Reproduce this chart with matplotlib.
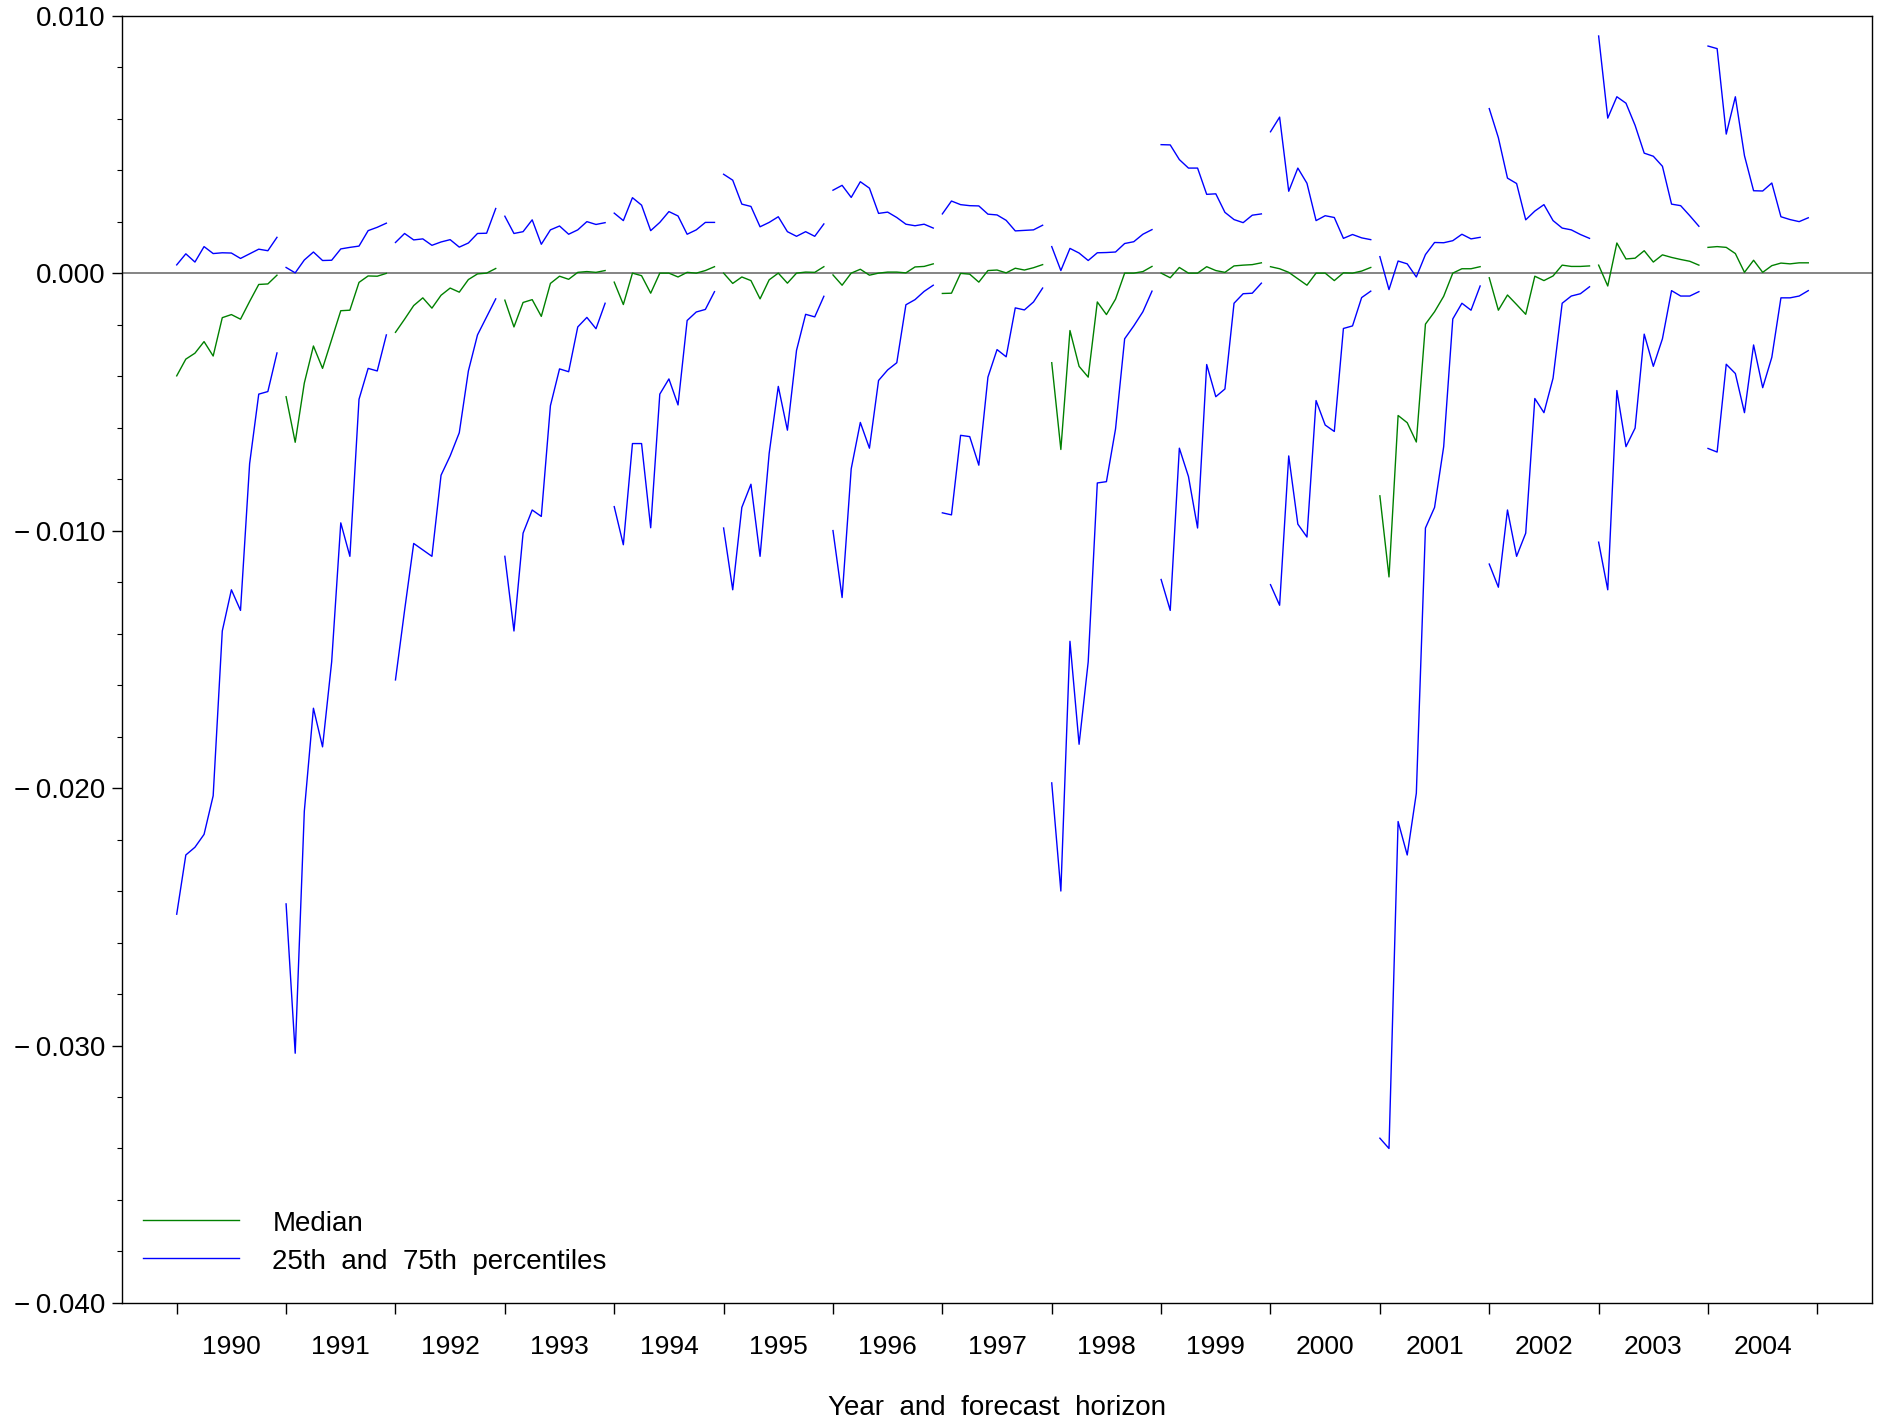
import matplotlib
matplotlib.use("Agg")
import matplotlib.pyplot as plt
from matplotlib.ticker import FixedLocator, FuncFormatter, MultipleLocator
from matplotlib.lines import Line2D

plt.rcParams['font.family'] = ['Liberation Sans', 'DejaVu Sans']

# values in thousandths (x 0.001); 12 forecast horizons per year
years = list(range(1990, 2005))
n_h = 12

median = [
    [-3.99, -3.34, -3.11, -2.66, -3.22, -1.73, -1.61, -1.79, -1.10, -0.44, -0.42, -0.08],
    [-4.80, -6.57, -4.27, -2.83, -3.70, -2.58, -1.46, -1.44, -0.36, -0.11, -0.12, -0.01],
    [-2.30, -1.79, -1.26, -0.96, -1.36, -0.86, -0.58, -0.74, -0.25, -0.03, 0.00, 0.18],
    [-1.05, -2.09, -1.14, -1.03, -1.68, -0.40, -0.12, -0.24, 0.03, 0.06, 0.03, 0.10],
    [-0.35, -1.22, 0.00, -0.10, -0.78, 0.00, 0.00, -0.15, 0.03, 0.00, 0.10, 0.25],
    [0.00, -0.40, -0.15, -0.29, -1.00, -0.26, 0.00, -0.39, 0.00, 0.04, 0.03, 0.25],
    [-0.07, -0.47, 0.00, 0.15, -0.08, 0.00, 0.04, 0.04, 0.01, 0.24, 0.26, 0.36],
    [-0.79, -0.78, -0.01, -0.04, -0.35, 0.10, 0.12, 0.01, 0.19, 0.12, 0.21, 0.33],
    [-3.48, -6.85, -2.23, -3.62, -4.04, -1.12, -1.61, -1.01, 0.00, 0.00, 0.06, 0.26],
    [0.00, -0.18, 0.22, 0.00, 0.00, 0.25, 0.10, 0.03, 0.28, 0.31, 0.33, 0.40],
    [0.25, 0.17, 0.03, -0.22, -0.47, 0.00, 0.00, -0.29, 0.01, 0.00, 0.08, 0.22],
    [-8.65, -11.8, -5.53, -5.81, -6.56, -1.98, -1.50, -0.90, 0.00, 0.17, 0.17, 0.25],
    [-0.18, -1.44, -0.85, -1.22, -1.60, -0.12, -0.29, -0.11, 0.31, 0.26, 0.26, 0.28],
    [0.31, -0.50, 1.17, 0.55, 0.58, 0.87, 0.43, 0.71, 0.61, 0.53, 0.46, 0.31],
    [1.00, 1.03, 1.00, 0.76, 0.03, 0.50, 0.03, 0.29, 0.39, 0.36, 0.40, 0.40],
]

pct75 = [
    [0.32, 0.75, 0.43, 1.03, 0.76, 0.79, 0.78, 0.57, 0.75, 0.93, 0.87, 1.39],
    [0.22, 0.01, 0.51, 0.82, 0.49, 0.50, 0.94, 1.00, 1.05, 1.65, 1.78, 1.94],
    [1.19, 1.54, 1.29, 1.33, 1.08, 1.21, 1.30, 1.01, 1.17, 1.54, 1.55, 2.51],
    [2.21, 1.54, 1.61, 2.07, 1.12, 1.68, 1.83, 1.51, 1.68, 2.00, 1.89, 1.96],
    [2.33, 2.04, 2.93, 2.64, 1.65, 1.97, 2.39, 2.22, 1.51, 1.68, 1.97, 1.97],
    [3.84, 3.61, 2.68, 2.59, 1.80, 1.97, 2.19, 1.61, 1.43, 1.61, 1.43, 1.91],
    [3.22, 3.41, 2.94, 3.55, 3.30, 2.32, 2.37, 2.16, 1.90, 1.84, 1.90, 1.75],
    [2.30, 2.80, 2.66, 2.62, 2.61, 2.29, 2.26, 2.05, 1.64, 1.66, 1.68, 1.86],
    [1.03, 0.10, 0.96, 0.78, 0.49, 0.79, 0.80, 0.82, 1.15, 1.22, 1.51, 1.69],
    [4.99, 4.98, 4.41, 4.08, 4.08, 3.06, 3.08, 2.36, 2.08, 1.96, 2.25, 2.30],
    [5.49, 6.06, 3.18, 4.08, 3.49, 2.04, 2.23, 2.16, 1.35, 1.50, 1.37, 1.30],
    [0.64, -0.64, 0.47, 0.36, -0.15, 0.72, 1.19, 1.18, 1.26, 1.51, 1.33, 1.39],
    [6.39, 5.26, 3.69, 3.48, 2.07, 2.41, 2.66, 2.04, 1.75, 1.68, 1.50, 1.35],
    [9.21, 6.02, 6.85, 6.60, 5.74, 4.66, 4.54, 4.15, 2.68, 2.62, 2.23, 1.82],
    [8.82, 8.72, 5.40, 6.85, 4.56, 3.20, 3.19, 3.50, 2.19, 2.08, 2.00, 2.15],
]

pct25 = [
    [-24.9, -22.6, -22.3, -21.8, -20.3, -13.9, -12.3, -13.1, -7.4, -4.7, -4.6, -3.1],
    [-24.5, -30.3, -20.9, -16.9, -18.4, -15.1, -9.7, -11.0, -4.9, -3.7, -3.8, -2.4],
    [-15.8, -13.1, -10.5, -10.75, -11.0, -7.85, -7.1, -6.2, -3.8, -2.4, -1.7, -1.0],
    [-11.0, -13.9, -10.1, -9.2, -9.45, -5.15, -3.72, -3.83, -2.09, -1.72, -2.16, -1.17],
    [-9.07, -10.55, -6.62, -6.62, -9.89, -4.70, -4.11, -5.12, -1.84, -1.51, -1.41, -0.72],
    [-9.9, -12.3, -9.1, -8.2, -11.0, -7.0, -4.4, -6.1, -3.0, -1.6, -1.7, -0.9],
    [-10.0, -12.6, -7.6, -5.8, -6.8, -4.17, -3.76, -3.48, -1.23, -1.03, -0.71, -0.47],
    [-9.31, -9.39, -6.30, -6.35, -7.46, -4.04, -2.97, -3.25, -1.35, -1.43, -1.12, -0.58],
    [-19.8, -24.0, -14.3, -18.3, -15.1, -8.15, -8.1, -6.05, -2.55, -2.05, -1.5, -0.7],
    [-11.9, -13.1, -6.8, -7.9, -9.9, -3.55, -4.8, -4.5, -1.17, -0.8, -0.78, -0.39],
    [-12.1, -12.9, -7.1, -9.75, -10.25, -4.95, -5.9, -6.15, -2.15, -2.05, -0.95, -0.7],
    [-33.6, -34.0, -21.3, -22.6, -20.2, -9.9, -9.1, -6.74, -1.78, -1.17, -1.44, -0.5],
    [-11.3, -12.2, -9.2, -11.0, -10.1, -4.87, -5.42, -4.08, -1.17, -0.89, -0.80, -0.53],
    [-10.45, -12.3, -4.56, -6.74, -6.02, -2.37, -3.62, -2.55, -0.68, -0.89, -0.89, -0.72],
    [-6.81, -6.95, -3.54, -3.90, -5.42, -2.79, -4.45, -3.27, -0.96, -0.96, -0.89, -0.68],
]

GREEN = "#008000"
BLUE = "#0000ff"
FS = 20

fig = plt.figure(figsize=(18.83, 14.24), dpi=100)
ax = fig.add_axes([0.0648, 0.085, 0.9294, 0.904])

ax.axhline(0, color="#707070", lw=1.2, zorder=1)

for k in range(len(years)):
    xs = [k * n_h + i for i in range(n_h)]
    ax.plot(xs, [v / 1000 for v in pct75[k]], color=BLUE, lw=1.0)
    ax.plot(xs, [v / 1000 for v in pct25[k]], color=BLUE, lw=1.0)
    ax.plot(xs, [v / 1000 for v in median[k]], color=GREEN, lw=1.0)

ax.set_xlim(-6, 186)
ax.set_ylim(-0.040, 0.010)

# x axis: ticks at year boundaries, labels centred in each year
ax.xaxis.set_major_locator(FixedLocator([k * n_h for k in range(len(years) + 1)]))
ax.xaxis.set_minor_locator(FixedLocator([k * n_h + n_h / 2 for k in range(len(years))]))
ax.xaxis.set_major_formatter(FuncFormatter(lambda v, p: ""))
ax.set_xticklabels([str(y) for y in years], minor=True)
ax.tick_params(axis="x", which="major", direction="out", length=8, width=1.0)
ax.tick_params(axis="x", which="minor", length=0, pad=23, labelsize=19)

# y axis
ax.yaxis.set_major_locator(MultipleLocator(0.010))
ax.yaxis.set_minor_locator(MultipleLocator(0.002))


def yfmt(v, p):
    if abs(v) < 1e-9:
        return "0.000"
    if v < 0:
        return "\u2212\u2009%.3f" % abs(v)
    return "%.3f" % v


ax.yaxis.set_major_formatter(FuncFormatter(yfmt))
ax.tick_params(axis="y", which="major", direction="out", length=7, width=1.0, pad=5, labelsize=FS)
ax.tick_params(axis="y", which="minor", direction="out", length=3.5, width=0.8)

for s in ax.spines.values():
    s.set_linewidth(1.0)

ax.set_xlabel("Year  and  forecast  horizon", fontsize=FS, labelpad=26)

handles = [Line2D([], [], color=GREEN, lw=1.0), Line2D([], [], color=BLUE, lw=1.0)]
ax.legend(handles, ["Median", "25th  and  75th  percentiles"], loc="center left",
          bbox_to_anchor=(0.0758, 0.1278), bbox_transform=fig.transFigure,
          frameon=False, fontsize=FS, handlelength=3.45, handletextpad=1.22,
          handleheight=1.05, labelspacing=0.33, borderpad=0, borderaxespad=0)

fig.savefig("out.png", dpi=100, facecolor="white")
